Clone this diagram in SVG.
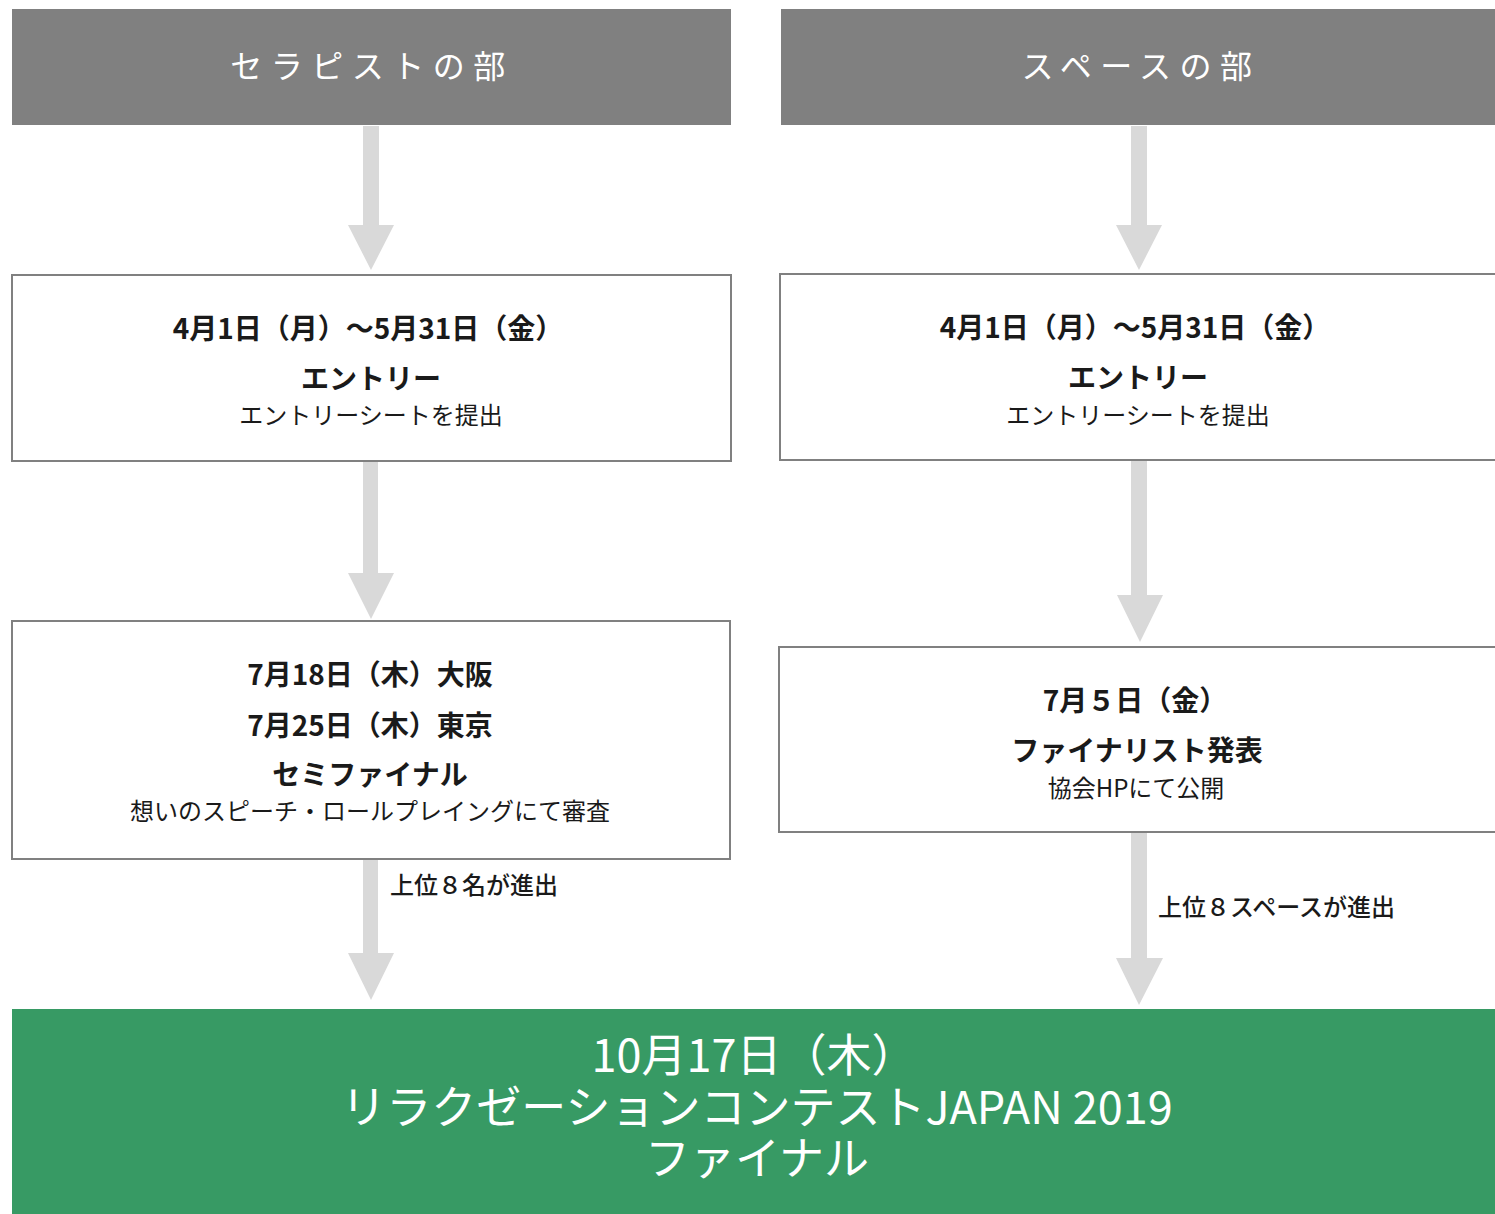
<svg xmlns="http://www.w3.org/2000/svg" width="1495" height="1214" viewBox="0 0 1495 1214">
<style>
text{font-family:"Noto Sans CJK JP","Noto Sans",sans-serif;text-anchor:middle;fill:#1a1a1a}
.hdr{fill:#808080}
.hdrt{fill:#fff;font-size:32px;letter-spacing:8.5px}
.box{fill:#fff;stroke:#808080;stroke-width:2}
.b{font-size:28px;font-weight:bold}
.s{font-size:24px}
.lbl{font-size:24px;text-anchor:start;font-weight:500}
.arr{fill:#d9d9d9}
.fin{fill:#379a64}
.fint{fill:#fff;font-size:45px}
</style>
<g id="connectors">
<polygon class="arr" points="363,126 379,126 379,225 394,225 371,270 348,225 363,225"/>
<polygon class="arr" points="1131,126 1147,126 1147,225 1162,225 1139,270 1116,225 1131,225"/>
<polygon class="arr" points="363,462 378,462 378,573 394,573 371,619 348,573 363,573"/>
<polygon class="arr" points="1131,461 1147,461 1147,595 1163,595 1140,642 1117,595 1131,595"/>
<polygon class="arr" points="363,860 378,860 378,953 394,953 371,1000 348,953 363,953"/>
<polygon class="arr" points="1131,833 1147,833 1147,958 1163,958 1139,1005 1116,958 1131,958"/>
<text class="lbl" x="390" y="894">上位８名が進出</text>
<text class="lbl" x="1158" y="916">上位８スペースが進出</text>
</g>
<g id="header-therapist">
<rect class="hdr" x="12" y="9" width="719" height="116"/>
<text class="hdrt" x="372" y="78">セラピストの部</text>
</g>
<g id="header-space">
<rect class="hdr" x="781" y="9" width="714" height="116"/>
<text class="hdrt" x="1141" y="78">スペースの部</text>
</g>
<g id="entry-therapist">
<rect class="box" x="12" y="275" width="719" height="186"/>
<text class="b" x="368" y="339">4月1日（月）～5月31日（金）</text>
<text class="b" x="371" y="389">エントリー</text>
<text class="s" x="371" y="424">エントリーシートを提出</text>
</g>
<g id="entry-space">
<rect class="box" x="780" y="274" width="720" height="186"/>
<text class="b" x="1135" y="338">4月1日（月）～5月31日（金）</text>
<text class="b" x="1138" y="388">エントリー</text>
<text class="s" x="1138" y="424">エントリーシートを提出</text>
</g>
<g id="semifinal">
<rect class="box" x="12" y="621" width="718" height="238"/>
<text class="b" x="370" y="685">7月18日（木）大阪</text>
<text class="b" x="370" y="736">7月25日（木）東京</text>
<text class="b" x="370" y="785">セミファイナル</text>
<text class="s" x="370" y="820">想いのスピーチ・ロールプレイングにて審査</text>
</g>
<g id="finalist">
<rect class="box" x="779" y="647" width="721" height="185"/>
<text class="b" x="1135" y="711">7月５日（金）</text>
<text class="b" x="1137" y="761">ファイナリスト発表</text>
<text class="s" x="1136" y="797">協会HPにて公開</text>
</g>
<g id="final">
<rect class="fin" x="12" y="1009" width="1483" height="205"/>
<text class="fint" x="754" y="1072">10月17日（木）</text>
<text class="fint" x="757" y="1124">リラクゼーションコンテストJAPAN 2019</text>
<text class="fint" x="757" y="1175">ファイナル</text>
</g>
</svg>
